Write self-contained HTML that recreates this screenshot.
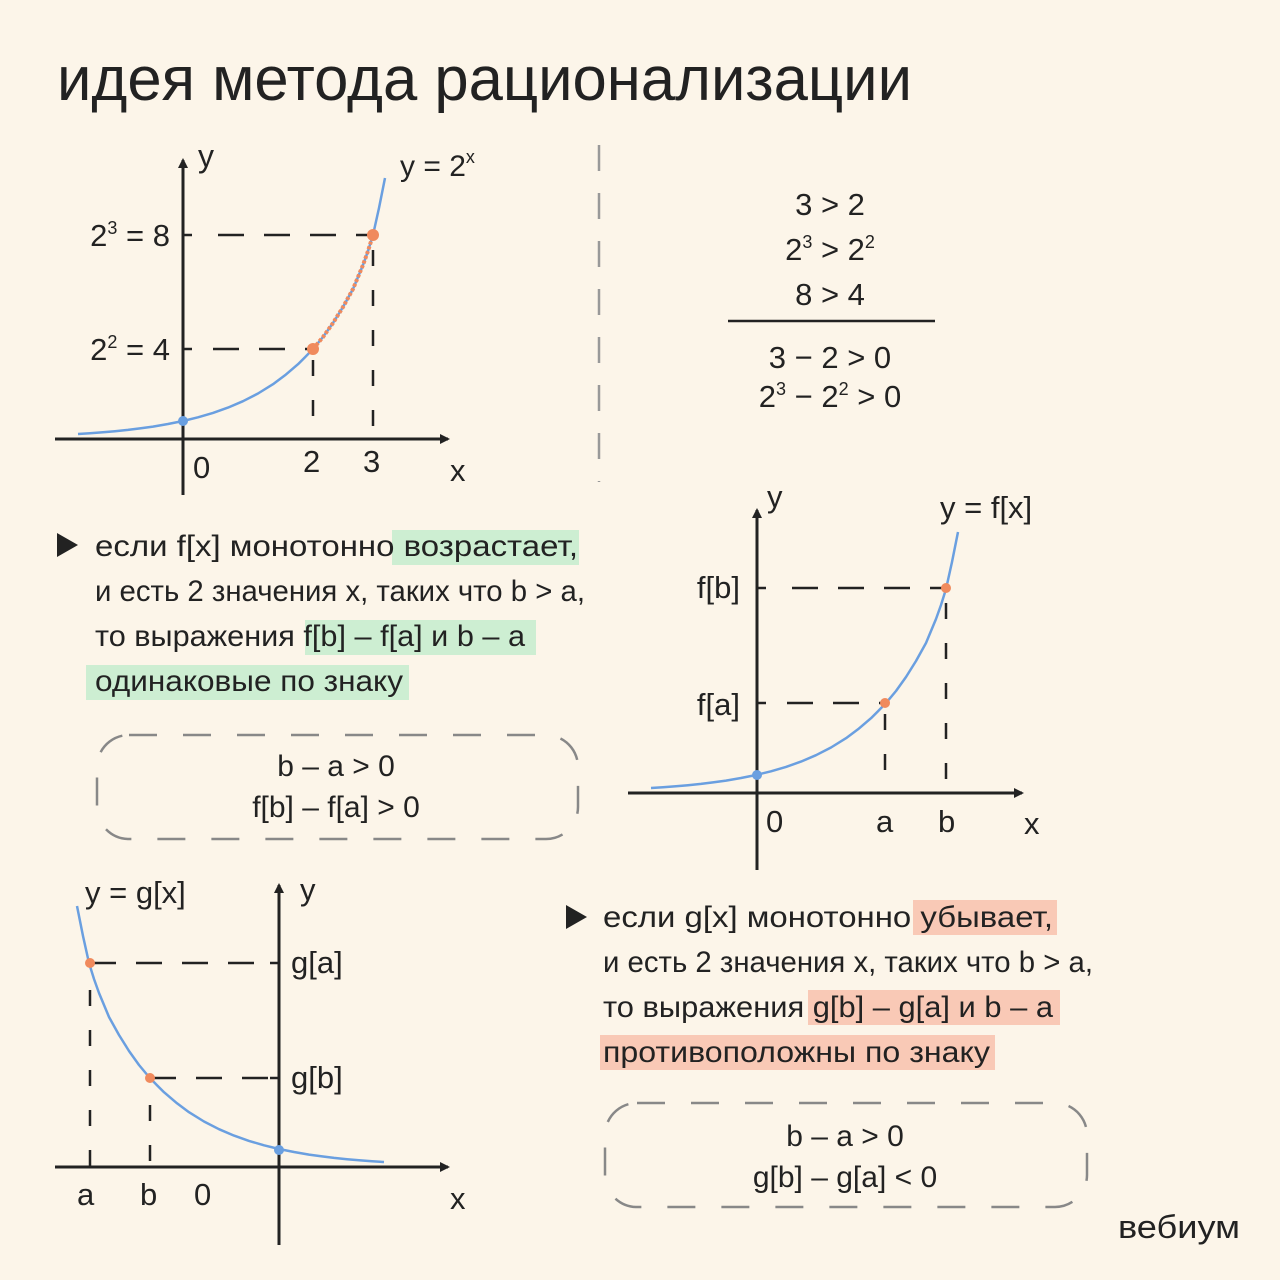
<!DOCTYPE html>
<html><head><meta charset="utf-8"><style>
html,body{margin:0;padding:0;background:#fcf5e9}
svg{display:block}
text{font-family:"Liberation Sans","Noto Sans CJK SC",sans-serif;fill:#222}
</style></head><body>
<svg width="1280" height="1280" viewBox="0 0 1280 1280" xmlns="http://www.w3.org/2000/svg">
<rect width="1280" height="1280" fill="#fcf5e9"/>
<defs>
<marker id="ar" markerWidth="10" markerHeight="10" refX="8" refY="5" orient="auto" markerUnits="userSpaceOnUse"><path d="M0,0 L10,5 L0,10 Z" fill="#222"/></marker>
<path id="curve" d="M78,434 L90,433.3 L103,432.3 L115,431.2 L128,429.9 L140,428.4 L153,426.6 L168,424 L183,421 L198,417.3 L213,412.9 L228,407.6 L243,401.2 L258,393.5 L273,384.2 L285,375.3 L298,364.2 L305,357.2 L313,349 L323,337 L333,323 L343,307 L353,289 L363,265 L368,251 L373,235 L379,208 L385,178" fill="none" stroke="#6a9fe0" stroke-width="2.5" stroke-linejoin="round"/>
</defs>

<text x="57" y="100" font-size="62" textLength="855" lengthAdjust="spacingAndGlyphs" style="font-weight:500">идея метода рационализации</text>

<!-- Graph 1 -->
<g stroke="#222" stroke-width="3">
<line x1="183" y1="495" x2="183" y2="160" marker-end="url(#ar)"/>
<line x1="55" y1="439" x2="448" y2="439" marker-end="url(#ar)"/>
</g>
<g stroke="#222" stroke-width="2.5" stroke-dasharray="26 20">
<line x1="218" y1="235" x2="373" y2="235"/>
<line x1="213" y1="349" x2="313" y2="349"/>
</g>
<g stroke="#222" stroke-width="2.5" stroke-dasharray="16 24">
<line x1="313" y1="360" x2="313" y2="439"/>
<line x1="373" y1="250" x2="373" y2="439"/>
</g>
<line x1="183" y1="235" x2="192" y2="235" stroke="#222" stroke-width="2.5"/>
<line x1="183" y1="349" x2="192" y2="349" stroke="#222" stroke-width="2.5"/>
<use href="#curve"/>
<path d="M313,349 L323,337 L333,323 L343,307 L353,289 L363,265 L368,251 L373,235" fill="none" stroke="#f08a5d" stroke-width="4" stroke-dasharray="3 2"/>
<circle cx="183" cy="421" r="5" fill="#6a9fe0"/>
<circle cx="313" cy="349" r="6" fill="#f08a5d"/>
<circle cx="373" cy="235" r="6" fill="#f08a5d"/>
<text x="198" y="167" font-size="32">y</text>
<text x="400" y="176" font-size="30">y = 2<tspan font-size="18" dy="-13">x</tspan></text>
<text x="170" y="246" font-size="31" text-anchor="end">2<tspan font-size="18" dy="-12">3</tspan><tspan dy="12"> = 8</tspan></text>
<text x="170" y="360" font-size="31" text-anchor="end">2<tspan font-size="18" dy="-12">2</tspan><tspan dy="12"> = 4</tspan></text>
<text x="193" y="478" font-size="31">0</text>
<text x="303" y="472" font-size="31">2</text>
<text x="363" y="472" font-size="31">3</text>
<text x="450" y="481" font-size="31">x</text>

<!-- divider -->
<line x1="599" y1="145" x2="599" y2="482" stroke="#999" stroke-width="2.5" stroke-dasharray="26 22"/>

<!-- right top math -->
<g font-size="31" text-anchor="middle">
<text x="830" y="215">3 &gt; 2</text>
<text x="830" y="260">2<tspan font-size="18" dy="-12">3</tspan><tspan dy="12"> &gt; 2</tspan><tspan font-size="18" dy="-12">2</tspan></text>
<text x="830" y="305">8 &gt; 4</text>
<text x="830" y="368">3 − 2 &gt; 0</text>
<text x="830" y="407">2<tspan font-size="18" dy="-12">3</tspan><tspan dy="12"> − 2</tspan><tspan font-size="18" dy="-12">2</tspan><tspan dy="12"> &gt; 0</tspan></text>
</g>
<line x1="728" y1="321" x2="935" y2="321" stroke="#222" stroke-width="2.5"/>

<!-- left text block -->
<rect x="392" y="530" width="187" height="35" fill="#cdeed2"/>
<rect x="305" y="620" width="231" height="35" fill="#cdeed2"/>
<rect x="86" y="665" width="323" height="35" fill="#cdeed2"/>
<path d="M57,533 L78,545 L57,557 Z" fill="#222"/>
<g font-size="30">
<text x="95" y="556" textLength="483" lengthAdjust="spacingAndGlyphs">если f[x] монотонно  возрастает,</text>
<text x="95" y="601" textLength="490" lengthAdjust="spacingAndGlyphs">и есть 2 значения x, таких что b &gt; a,</text>
<text x="95" y="646" textLength="430" lengthAdjust="spacingAndGlyphs">то выражения  f[b] – f[a] и b – a</text>
<text x="95" y="691" textLength="308" lengthAdjust="spacingAndGlyphs">одинаковые по знаку</text>
</g>
<rect x="97" y="735" width="481" height="104" rx="32" fill="none" stroke="#888" stroke-width="2.5" stroke-dasharray="28 26"/>
<text x="336" y="776" font-size="30" text-anchor="middle">b – a &gt; 0</text>
<text x="336" y="817" font-size="30" text-anchor="middle">f[b] – f[a] &gt; 0</text>

<!-- Graph 2 -->
<g stroke="#222" stroke-width="3">
<line x1="757" y1="870" x2="757" y2="510" marker-end="url(#ar)"/>
<line x1="628" y1="793" x2="1022" y2="793" marker-end="url(#ar)"/>
</g>
<g stroke="#222" stroke-width="2.5" stroke-dasharray="26 20">
<line x1="792" y1="588" x2="946" y2="588"/>
<line x1="787" y1="703" x2="885" y2="703"/>
</g>
<g stroke="#222" stroke-width="2.5" stroke-dasharray="16 24">
<line x1="885" y1="714" x2="885" y2="793"/>
<line x1="946" y1="603" x2="946" y2="793"/>
</g>
<line x1="757" y1="588" x2="766" y2="588" stroke="#222" stroke-width="2.5"/>
<line x1="757" y1="703" x2="766" y2="703" stroke="#222" stroke-width="2.5"/>
<use href="#curve" transform="translate(573,354)"/>
<circle cx="757" cy="775" r="5" fill="#6a9fe0"/>
<circle cx="885" cy="703" r="5" fill="#f08a5d"/>
<circle cx="946" cy="588" r="5" fill="#f08a5d"/>
<text x="767" y="507" font-size="31">y</text>
<text x="940" y="518" font-size="31">y = f[x]</text>
<text x="740" y="598" font-size="31" text-anchor="end">f[b]</text>
<text x="740" y="715" font-size="31" text-anchor="end">f[a]</text>
<text x="766" y="832" font-size="31">0</text>
<text x="876" y="832" font-size="31">a</text>
<text x="938" y="832" font-size="31">b</text>
<text x="1024" y="834" font-size="31">x</text>

<!-- Graph 3 -->
<g stroke="#222" stroke-width="3">
<line x1="279" y1="1245" x2="279" y2="885" marker-end="url(#ar)"/>
<line x1="55" y1="1167" x2="448" y2="1167" marker-end="url(#ar)"/>
</g>
<g stroke="#222" stroke-width="2.5" stroke-dasharray="26 20">
<line x1="90" y1="963" x2="270" y2="963"/>
<line x1="150" y1="1078" x2="270" y2="1078"/>
</g>
<g stroke="#222" stroke-width="2.5" stroke-dasharray="16 24">
<line x1="90" y1="990" x2="90" y2="1167"/>
<line x1="150" y1="1105" x2="150" y2="1167"/>
</g>
<line x1="270" y1="963" x2="279" y2="963" stroke="#222" stroke-width="2.5"/>
<line x1="270" y1="1078" x2="279" y2="1078" stroke="#222" stroke-width="2.5"/>
<use href="#curve" transform="matrix(-1 0 0 1 462 728)"/>
<circle cx="279" cy="1150" r="5" fill="#6a9fe0"/>
<circle cx="150" cy="1078" r="5" fill="#f08a5d"/>
<circle cx="90" cy="963" r="5" fill="#f08a5d"/>
<text x="85" y="903" font-size="31">y = g[x]</text>
<text x="300" y="900" font-size="31">y</text>
<text x="291" y="973" font-size="31">g[a]</text>
<text x="291" y="1088" font-size="31">g[b]</text>
<text x="77" y="1205" font-size="31">a</text>
<text x="140" y="1205" font-size="31">b</text>
<text x="194" y="1205" font-size="31">0</text>
<text x="450" y="1209" font-size="31">x</text>

<!-- right text block -->
<rect x="913" y="900" width="144" height="35" fill="#f9c9b6"/>
<rect x="808" y="990" width="252" height="35" fill="#f9c9b6"/>
<rect x="600" y="1035" width="395" height="35" fill="#f9c9b6"/>
<path d="M566,905 L587,917 L566,929 Z" fill="#222"/>
<g font-size="30">
<text x="603" y="927" textLength="450" lengthAdjust="spacingAndGlyphs">если g[x] монотонно  убывает,</text>
<text x="603" y="972" textLength="490" lengthAdjust="spacingAndGlyphs">и есть 2 значения x, таких что b &gt; a,</text>
<text x="603" y="1017" textLength="450" lengthAdjust="spacingAndGlyphs">то выражения g[b] – g[a] и b – a</text>
<text x="603" y="1062" textLength="387" lengthAdjust="spacingAndGlyphs">противоположны по знаку</text>
</g>
<rect x="605" y="1103" width="482" height="104" rx="32" fill="none" stroke="#888" stroke-width="2.5" stroke-dasharray="28 26"/>
<text x="845" y="1146" font-size="30" text-anchor="middle">b – a &gt; 0</text>
<text x="845" y="1187" font-size="30" text-anchor="middle">g[b] – g[a] &lt; 0</text>

<text x="1118" y="1238" font-size="32" textLength="122" lengthAdjust="spacingAndGlyphs" style="font-weight:500">вебиум</text>
</svg>
</body></html>
